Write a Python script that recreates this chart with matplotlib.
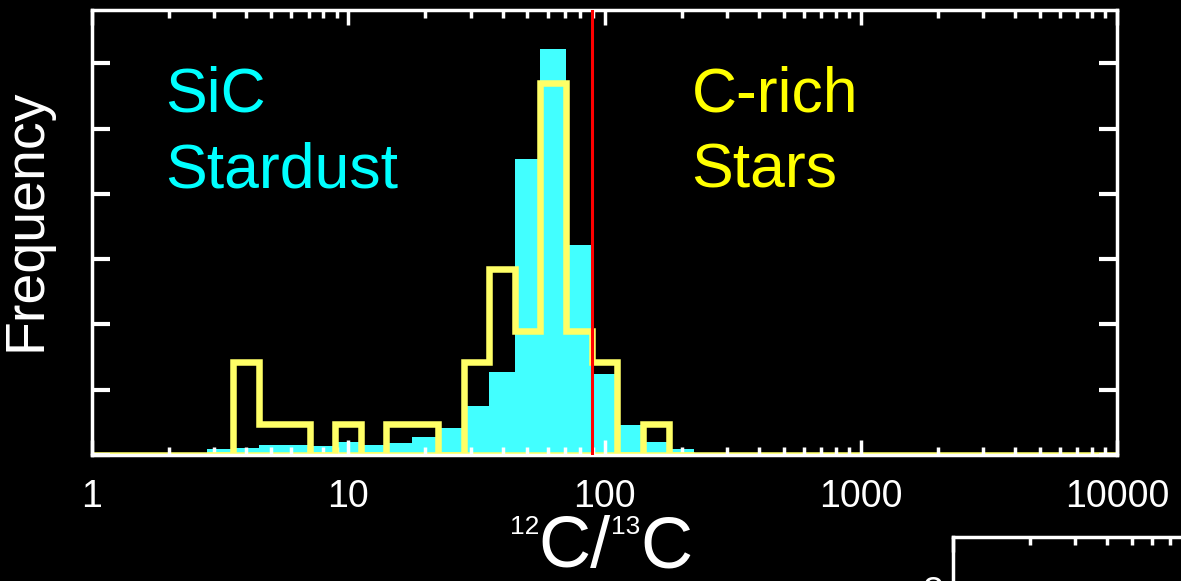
#!/usr/bin/env python3
import matplotlib
matplotlib.use('Agg')
import matplotlib.pyplot as plt
from matplotlib.ticker import FixedLocator, LogLocator, NullFormatter, FuncFormatter
from matplotlib.offsetbox import TextArea, HPacker, AnnotationBbox

plt.rcParams['font.family'] = ['Liberation Sans', 'DejaVu Sans']

# 12C/13C bin edges (log-spaced, 0.1 dex wide)
ratio_edges = [2.82, 3.55, 4.47, 5.62, 7.08, 8.91, 11.2, 14.1, 17.8, 22.4,
               28.2, 35.5, 44.7, 56.2, 70.8, 89.1, 112, 141, 178, 224]

# SiC stardust grains, frequency in tick units
sic_freq = [0.087, 0.11, 0.16, 0.16, 0.14, 0.20, 0.16, 0.19, 0.27, 0.41,
            0.75, 1.27, 4.53, 6.22, 3.22, 1.24, 0.46, 0.20, 0.087]

# C-rich stars, number of stars per bin
star_counts = [0, 3, 1, 1, 0, 1, 0, 1, 1, 0,
               3, 6, 4, 12, 4, 3, 0, 1, 0]
star_scale = 0.475   # one star in tick units

solar_ratio = 89
x_ticks = [1, 10, 100, 1000, 10000]
y_ticks = [0, 1, 2, 3, 4, 5, 6]

W, H = 1181, 581
fig = plt.figure(figsize=(W / 100, H / 100), dpi=100, facecolor='black')

# main panel: x 92..1117 px, y 10..455 px
ax = fig.add_axes([92 / W, (H - 455) / H, 1025 / W, 445 / H])
ax.set_facecolor('black')
ax.set_xscale('log')
ax.set_xlim(1, 10000)
ax.set_ylim(0, 6.815)

cyan = '#42FFFF'
yellow = '#FFFF66'

ax.stairs(sic_freq, ratio_edges, fill=True, color=cyan, zorder=1)
ax.axhline(0, color=yellow, lw=4.7, zorder=1.5)
step = ax.stairs([c * star_scale for c in star_counts], ratio_edges,
                 baseline=0, fill=False, color=yellow, lw=4.7, zorder=1.6)
step.set_joinstyle('miter')
ax.axvline(solar_ratio, color='#FF0000', lw=2.2, zorder=3)

ax.text(0.071, 0.771, 'SiC', color='#00FFFF', fontsize=45, transform=ax.transAxes)
ax.text(0.071, 0.600, 'Stardust', color='#00FFFF', fontsize=45, transform=ax.transAxes)
ax.text(0.585, 0.771, 'C-rich', color='#FFFF00', fontsize=45, transform=ax.transAxes)
ax.text(0.585, 0.600, 'Stars', color='#FFFF00', fontsize=45, transform=ax.transAxes)

for sp in ax.spines.values():
    sp.set_color('white')
    sp.set_linewidth(2.5)
    sp.set_zorder(2.5)

ax.xaxis.set_major_locator(FixedLocator(x_ticks))
ax.xaxis.set_minor_locator(LogLocator(base=10, subs=range(2, 10), numticks=20))
ax.xaxis.set_major_formatter(FuncFormatter(lambda v, p: '%d' % round(v)))
ax.xaxis.set_minor_formatter(NullFormatter())
ax.yaxis.set_major_locator(FixedLocator(y_ticks))
ax.tick_params(axis='x', which='major', direction='in', top=True, bottom=True,
               length=11, width=2.5, color='white', labelcolor='white',
               labelsize=27, pad=17)
ax.tick_params(axis='x', which='minor', direction='in', top=True, bottom=True,
               length=5.5, width=2.5, color='white')
ax.tick_params(axis='y', which='major', direction='in', left=True, right=True,
               length=13, width=3, color='white', labelleft=False)

fig.text(27 / W, (H - 220) / H, 'Frequency', color='white', fontsize=40,
         rotation=90, ha='center', va='center')

# x label: 12C/13C with small raised mass numbers
parts = [TextArea('12', textprops=dict(color='white', fontsize=19)),
         TextArea('C/', textprops=dict(color='white', fontsize=52)),
         TextArea('13', textprops=dict(color='white', fontsize=19)),
         TextArea('C', textprops=dict(color='white', fontsize=52))]
label = HPacker(children=parts, align='top', pad=0, sep=0)
ab = AnnotationBbox(label, (601 / W, (H - 515) / H), xycoords='figure fraction',
                    box_alignment=(0.5, 1), frameon=False, pad=0)
fig.add_artist(ab)

# corner of the panel below
ax2 = fig.add_axes([953 / W, (H - 537) / H - 445 / H, 1025 / W, 445 / H])
ax2.set_facecolor('black')
ax2.set_xscale('log')
ax2.set_xlim(1, 10000)
ax2.set_ylim(0, 6.815)
for sp in ax2.spines.values():
    sp.set_color('white')
    sp.set_linewidth(2.5)
ax2.xaxis.set_major_locator(FixedLocator(x_ticks))
ax2.xaxis.set_minor_locator(LogLocator(base=10, subs=range(2, 10), numticks=20))
ax2.xaxis.set_minor_formatter(NullFormatter())
ax2.tick_params(axis='x', which='both', direction='in', top=True, bottom=False,
                labelbottom=False, color='white', width=2.5)
ax2.tick_params(axis='x', which='major', length=11)
ax2.tick_params(axis='x', which='minor', length=5.5)
ax2.yaxis.set_major_locator(FixedLocator([6]))
ax2.yaxis.set_major_formatter(FuncFormatter(lambda v, p: '8'))
ax2.tick_params(axis='y', direction='in', length=13, width=3, color='white',
                labelcolor='white', labelsize=27, pad=7)

fig.savefig('out.png', dpi=100, facecolor='black')
